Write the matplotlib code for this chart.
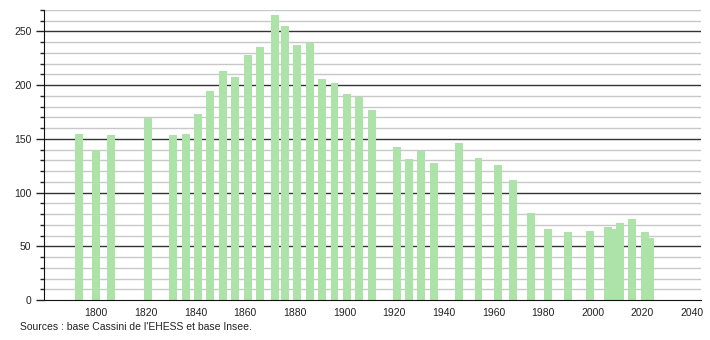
import numpy as np
import matplotlib
matplotlib.use("Agg")
from matplotlib import pyplot as plt
from matplotlib.ticker import MultipleLocator

years = [1793, 1800, 1806, 1821, 1831, 1836, 1841, 1846, 1851, 1856,
         1861, 1866, 1872, 1876, 1881, 1886, 1891, 1896, 1901, 1906,
         1911, 1921, 1926, 1931, 1936, 1946, 1954, 1962, 1968, 1975,
         1982, 1990, 1999, 2006, 2008, 2011, 2016, 2021, 2023]
population = [155, 140, 154, 169, 154, 155, 173, 195, 213, 208,
              228, 236, 265, 255, 237, 239, 206, 202, 192, 189,
              177, 142, 131, 139, 128, 146, 132, 126, 112, 81,
              66, 63, 64, 68, 66, 72, 75, 63, 58]
x_ticks = [1800, 1820, 1840, 1860, 1880, 1900, 1920, 1940, 1960, 1980, 2000, 2020, 2040]
source = "Sources : base Cassini de l'EHESS et base Insee."

plt.rcParams['font.family'] = ['Liberation Sans', 'DejaVu Sans']

fig = plt.figure(figsize=(7.1, 3.4), dpi=100)
ax = fig.add_axes([44 / 710, 40 / 340, 657 / 710, 290 / 340])

ax.set_xlim(1779, 2043.6)
ax.set_ylim(0, 270)

# grid: light every 10, dark every 50
for v in range(10, 271, 10):
    if v % 50 == 0:
        ax.axhline(v, color='#333333', lw=1.0, zorder=1)
    else:
        ax.axhline(v, color='#c8c8c8', lw=1.0, zorder=1)

ax.bar(years, population, width=3.2, color='#ade3a8', zorder=2)

ax.set_xticks(x_ticks)
ax.tick_params(axis='x', length=0, labelsize=7.5, pad=6, colors='#222222')
ax.yaxis.set_major_locator(MultipleLocator(50))
ax.yaxis.set_minor_locator(MultipleLocator(10))
ax.tick_params(axis='y', which='major', length=6, width=1, labelsize=7.5, pad=3, colors='#222222')
ax.tick_params(axis='y', which='minor', length=3, width=1, colors='#222222')

for s in ['top', 'right']:
    ax.spines[s].set_visible(False)
ax.spines['left'].set_color('#111111')
ax.spines['bottom'].set_color('#111111')
ax.spines['bottom'].set_zorder(3)

fig.text(20 / 710, 1 - 327 / 340, source, fontsize=7.5, color='#222222', va='center', ha='left')

fig.savefig('out.png', dpi=100)
